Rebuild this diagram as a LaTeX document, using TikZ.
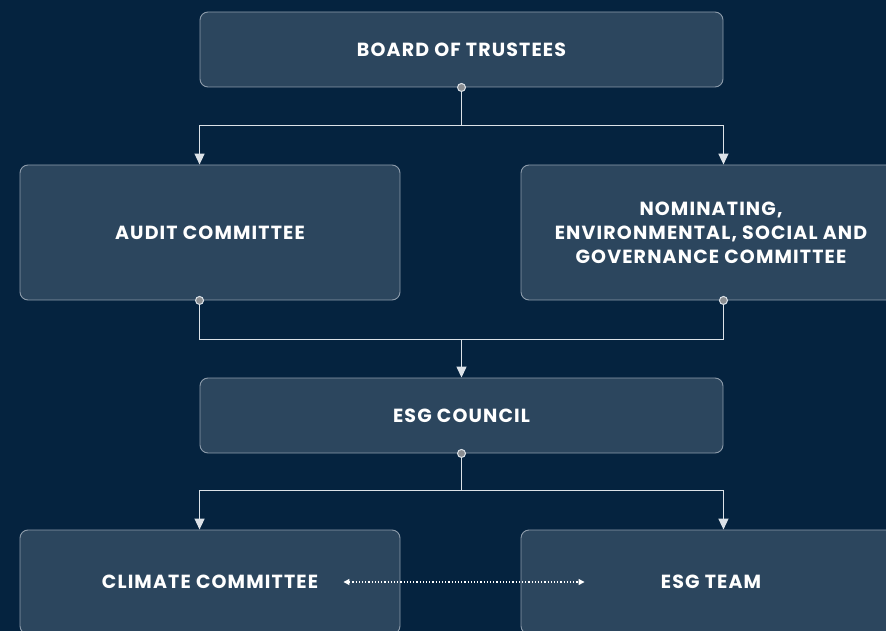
\documentclass[tikz,border=0pt]{standalone}
\usepackage{fontspec}
\setmainfont{Poppins}[LetterSpace=6]
\usetikzlibrary{arrows.meta,calc}
\definecolor{Navy}{HTML}{05233F}
\definecolor{Slate}{HTML}{2C465E}
\definecolor{Edge}{HTML}{8D9CAB}
\definecolor{Wire}{HTML}{DCE2E8}
\definecolor{Knob}{HTML}{8A8D91}

\begin{document}
\begin{tikzpicture}[x=1pt,y=-1pt,font=\bfseries\fontsize{19}{24}\selectfont,>={Triangle[width=10pt,length=11pt]},
 box/.style={draw=Edge,fill=Slate,line width=0.9pt,rounded corners=8pt,align=center,text=white,minimum width=380pt,minimum height=135pt},
 wide/.style={box,minimum width=523pt,minimum height=75pt},
 flow/.style={->,line width=1.4pt,draw=Wire},
 knob/.style={circle,fill=Knob,draw=Wire,line width=1pt,inner sep=0pt,minimum size=8pt},
 pair/.style={{Triangle[width=6pt,length=6pt]}-{Triangle[width=6pt,length=6pt]},line width=1.2pt,draw=white,dotted}]
 \fill[Navy] (0,0) rectangle (886,631);
 \clip (0,0) rectangle (886,631);
 \node[wide] (board) at (461.5,49.5) {BOARD OF TRUSTEES};
 \node[box] (audit) at (210,232.5) {AUDIT COMMITTEE};
 \node[box] (nesg) at (711,232.5) {NOMINATING,\\ENVIRONMENTAL, SOCIAL AND\\GOVERNANCE COMMITTEE};
 \node[wide] (council) at (461.5,415.5) {ESG COUNCIL};
 \node[box,minimum height=104pt] (climate) at (210,582) {CLIMATE COMMITTEE};
 \node[box,minimum height=104pt] (team) at (711,582) {ESG TEAM};
 % board down to the two committees
 \coordinate (split) at ($(board.south)+(0,38)$);
 \draw[flow] (board.south) -- (split) -| (audit.north -| board.west);
 \draw[flow] (split) -| (nesg.north -| board.east);
 % committees join into the council
 \coordinate (merge) at ($(council.north)+(0,-38)$);
 \draw[line width=1.4pt,draw=Wire] (audit.south -| board.west) |- (merge) -| (nesg.south -| board.east);
 \draw[flow] (merge) -- (council.north);
 % council down to climate committee and team
 \coordinate (split2) at ($(council.south)+(0,37)$);
 \draw[flow] (council.south) -- (split2) -| (climate.north -| council.west);
 \draw[flow] (split2) -| (team.north -| council.east);
 \draw[pair] ([xshift=-57pt]climate.east) -- ([xshift=64pt]team.west);
 \node[knob] (k1) at (board.south) {};
 \node[knob] (k2) at (audit.south -| board.west) {};
 \node[knob] (k3) at (nesg.south -| board.east) {};
 \node[knob] (k4) at (council.south) {};
\end{tikzpicture}
\end{document}
